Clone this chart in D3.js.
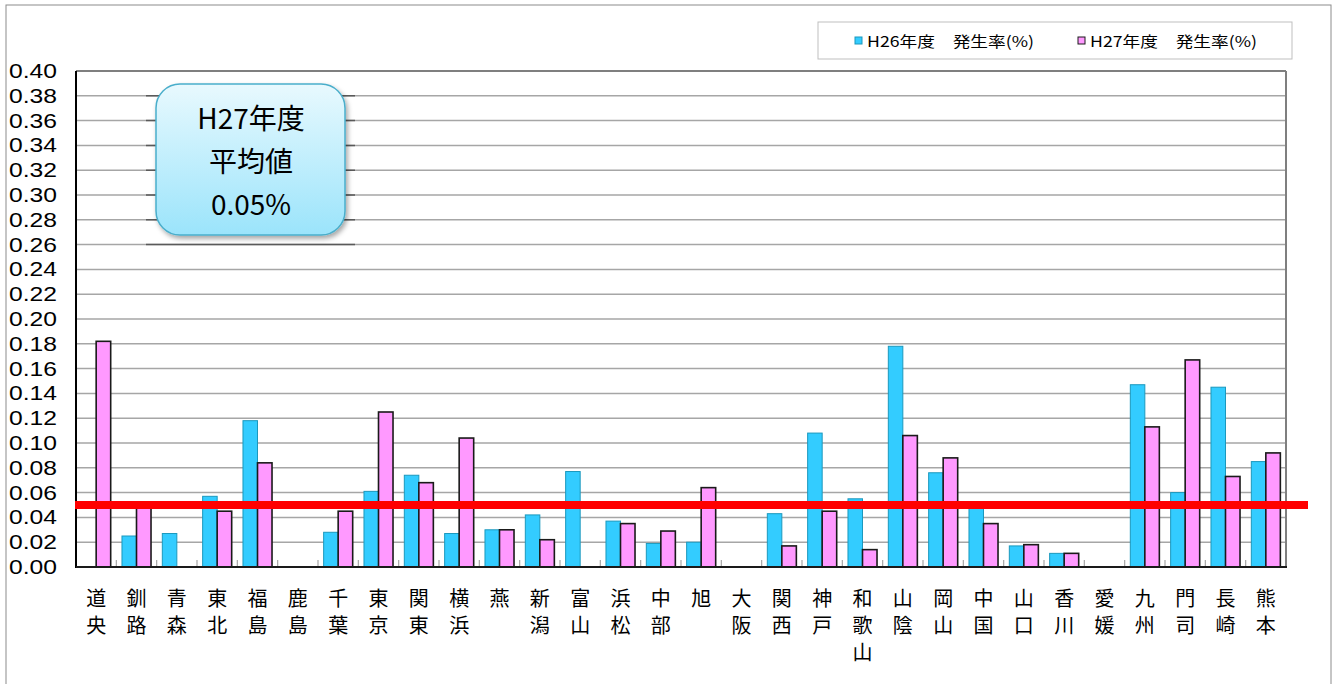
<!DOCTYPE html>
<html><head><meta charset="utf-8">
<script src="https://cdn.jsdelivr.net/npm/d3@7"></script>
<style>body{margin:0;background:#fff}svg{display:block}</style>
</head><body>
<script>
const categories = ["道央","釧路","青森","東北","福島","鹿島","千葉","東京","関東","横浜","燕","新潟","富山","浜松","中部","旭","大阪","関西","神戸","和歌山","山陰","岡山","中国","山口","香川","愛媛","九州","門司","長崎","熊本"];
const h26 = [0,0.025,0.027,0.057,0.118,0,0.028,0.061,0.074,0.027,0.030,0.042,0.077,0.037,0.019,0.020,0,0.043,0.108,0.055,0.178,0.076,0.048,0.017,0.011,0,0.147,0.060,0.145,0.085];
const h27 = [0.182,0.048,0,0.045,0.084,0,0.045,0.125,0.068,0.104,0.030,0.022,0,0.035,0.029,0.064,0,0.017,0.045,0.014,0.106,0.088,0.035,0.018,0.011,0,0.113,0.167,0.073,0.092];
const yTicks = [0,0.02,0.04,0.06,0.08,0.10,0.12,0.14,0.16,0.18,0.20,0.22,0.24,0.26,0.28,0.30,0.32,0.34,0.36,0.38,0.40];
const seriesNames = ["H26年度　発生率(%)","H27年度　発生率(%)"];
const average = 0.05;
const calloutLines = ["H27年度","平均値","0.05%"];

const W=1336,H=684;
const L=76,R=1286,T=71,B=567;
const svg=d3.select("body").append("svg").attr("width",W).attr("height",H);
const defs=svg.append("defs");
const g1=defs.append("linearGradient").attr("id","cg").attr("x1",0).attr("y1",0).attr("x2",0).attr("y2",1);
g1.append("stop").attr("offset","0%").attr("stop-color","#e8f9fe");
g1.append("stop").attr("offset","100%").attr("stop-color","#9be4fb");
const f=defs.append("filter").attr("id","sh").attr("x","-20%").attr("y","-20%").attr("width","150%").attr("height","150%");
f.append("feDropShadow").attr("dx",2).attr("dy",3).attr("stdDeviation",2.5).attr("flood-color","#000").attr("flood-opacity",0.35);

// outer frame
svg.append("rect").attr("x",6).attr("y",5).attr("width",1325).attr("height",690).attr("fill","none").attr("stroke","#8c8c8c").attr("stroke-width",1);

const x=d3.scaleBand().domain(categories).range([L,R]).paddingInner(0.28).paddingOuter(0.14);
const xs=d3.scaleBand().domain([0,1]).range([0,x.bandwidth()]);
const y=d3.scaleLinear().domain([0,0.40]).range([B,T]);

// gridlines
svg.append("g").selectAll("line").data(yTicks.filter(d=>d>0&&d<0.40)).join("line")
 .attr("x1",L).attr("x2",R).attr("y1",d=>y(d)).attr("y2",d=>y(d)).attr("stroke","#a6a6a6").attr("stroke-width",1.5);
// darker segments behind callout
svg.append("g").selectAll("line").data(yTicks.filter(d=>d>=0.26&&d<0.40)).join("line")
 .attr("x1",146).attr("x2",355).attr("y1",d=>y(d)).attr("y2",d=>y(d)).attr("stroke","#5a5a5a").attr("stroke-width",1.5);

// plot border top/right
svg.append("line").attr("x1",L).attr("x2",R).attr("y1",T).attr("y2",T).attr("stroke","#7f7f7f").attr("stroke-width",2);
svg.append("line").attr("x1",R).attr("x2",R).attr("y1",T).attr("y2",B).attr("stroke","#7f7f7f").attr("stroke-width",2);

// inner x ticks at boundaries
const step=x.step();
svg.append("g").selectAll("line").data(d3.range(1,categories.length)).join("line")
 .attr("x1",i=>x(categories[i])-step*x.paddingInner()/2).attr("x2",i=>x(categories[i])-step*x.paddingInner()/2)
 .attr("y1",B).attr("y2",B-7).attr("stroke","#a6a6a6").attr("stroke-width",1.2);

// bars
const groups=svg.append("g").selectAll("g").data(categories).join("g").attr("transform",d=>`translate(${x(d)},0)`);
groups.each(function(d,i){
  const gg=d3.select(this);
  if(h26[i]>0) gg.append("rect").attr("x",xs(0)).attr("width",xs.bandwidth()).attr("y",y(h26[i])).attr("height",B-y(h26[i]))
    .attr("fill","#33ccff").attr("stroke","#1b98bd").attr("stroke-width",1);
  if(h27[i]>0) gg.append("rect").attr("x",xs(1)).attr("width",xs.bandwidth()).attr("y",y(h27[i])).attr("height",B-y(h27[i]))
    .attr("fill","#ff99ff").attr("stroke","#1a1a1a").attr("stroke-width",1.6);
});

// axes lines
svg.append("line").attr("x1",L).attr("x2",L).attr("y1",T).attr("y2",B+1).attr("stroke","#000").attr("stroke-width",2);
svg.append("line").attr("x1",L).attr("x2",R+1).attr("y1",B).attr("y2",B).attr("stroke","#1a1a1a").attr("stroke-width",2);

// y labels
svg.append("g").selectAll("text").data(yTicks).join("text")
 .attr("x",57).attr("y",d=>y(d)+7).attr("text-anchor","end")
 .attr("font-family","Liberation Sans, Arial, sans-serif").attr("font-size",20).attr("fill","#000")
 .attr("textLength",48).attr("lengthAdjust","spacingAndGlyphs").text(d=>d.toFixed(2));

// x labels (vertical)
const xl=svg.append("g").selectAll("text").data(categories).join("text")
 .attr("font-family","Noto Sans CJK JP, sans-serif").attr("font-size",20).attr("fill","#000").attr("text-anchor","middle");
xl.each(function(d){
  const t=d3.select(this);
  Array.from(d).forEach((c,k)=>t.append("tspan").attr("x",x(d)+x.bandwidth()/2).attr("y",606+k*27).text(c));
});

// average line
svg.append("line").attr("x1",75).attr("x2",1308).attr("y1",y(average)).attr("y2",y(average)).attr("stroke","#ff0000").attr("stroke-width",8);

// callout
svg.append("rect").attr("x",156).attr("y",84).attr("width",189).attr("height",151).attr("rx",24).attr("ry",24)
 .attr("fill","url(#cg)").attr("stroke","#4aaecb").attr("stroke-width",1.5).attr("filter","url(#sh)");
svg.append("g").selectAll("text").data(calloutLines).join("text")
 .attr("x",251).attr("y",(d,i)=>129+i*43).attr("text-anchor","middle")
 .attr("font-family","Noto Sans CJK JP, sans-serif").attr("font-size",28).attr("fill","#000").text(d=>d);

// legend
svg.append("rect").attr("x",818).attr("y",22).attr("width",474).attr("height",37).attr("fill","#fff").attr("stroke","#bfbfbf").attr("stroke-width",1);
const lg=svg.append("g").selectAll("g").data(seriesNames).join("g").attr("transform",(d,i)=>`translate(${i?1078:855},0)`);
lg.append("rect").attr("x",0).attr("y",37).attr("width",7).attr("height",7)
 .attr("fill",(d,i)=>i?"#ff99ff":"#33ccff").attr("stroke",(d,i)=>i?"#1a1a1a":"#1b98bd").attr("stroke-width",1);
lg.append("text").attr("x",12).attr("y",47).attr("font-family","Noto Sans CJK JP, sans-serif").attr("font-size",15).attr("fill","#000")
 .attr("textLength",167).attr("lengthAdjust","spacingAndGlyphs").text(d=>d);
</script>
</body></html>
